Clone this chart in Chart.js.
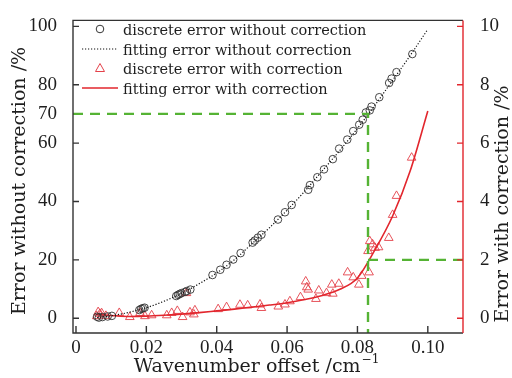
<!DOCTYPE html>
<html>
<head>
<meta charset="utf-8">
<script src="https://cdn.jsdelivr.net/npm/chart.js@4.4.1/dist/chart.umd.min.js"></script>
<style>
  html, body { margin: 0; padding: 0; background: #fff; }
  #wrap { width: 512px; height: 378px; }
</style>
</head>
<body>
<div id="wrap"><canvas id="errChart" width="512" height="378"></canvas></div>
<script>
// tick labels
const xTicks = [0, 0.02, 0.04, 0.06, 0.08, 0.10];
const yTicks = [0, 20, 40, 60, 70, 80, 100];
const y2Ticks = [0, 2, 4, 6, 8, 10];

// discrete error without correction (x, %)
const rawX = [0.006, 0.0065, 0.0075, 0.009, 0.0102,
    0.018, 0.0185, 0.019, 0.0195,
    0.0285, 0.029, 0.0295, 0.030, 0.031, 0.0315, 0.0325,
    0.0388, 0.041, 0.0428, 0.0447, 0.0468,
    0.0502, 0.0508, 0.0517, 0.0527,
    0.0574, 0.0594, 0.0613,
    0.066, 0.0665, 0.0686, 0.0705, 0.073, 0.0748, 0.0771, 0.0788, 0.0805, 0.0815, 0.0824, 0.0835, 0.084,
    0.0862, 0.089, 0.0897, 0.0911, 0.0956];
const rawY = [0.5, 0.2, 0.4, 0.6, 0.8,
    2.8, 3.2, 3.4, 3.6,
    7.6, 8.0, 8.3, 8.6, 9.0, 9.3, 9.8,
    14.8, 16.6, 18.3, 20.1, 22.3,
    25.9, 26.6, 27.6, 28.6,
    33.8, 36.3, 38.8,
    44.0, 45.6, 48.3, 51.0, 54.5, 58.1, 61.2, 64.1, 66.3, 68.0, 70.5, 71.2, 72.5,
    75.7, 80.6, 82.1, 84.3, 90.5];

// discrete error with correction (x, %)
const corrX = [0.0059, 0.0063, 0.0068, 0.0073, 0.0085, 0.0123, 0.0153, 0.0182, 0.0196, 0.0215,
    0.0258, 0.0272, 0.0288, 0.0303, 0.0314, 0.0324, 0.0338, 0.0335,
    0.0404, 0.0428, 0.0466, 0.0488, 0.0523, 0.0527, 0.0575, 0.0594, 0.0608, 0.0638,
    0.0653, 0.0656, 0.066, 0.0682, 0.069, 0.0712, 0.0727, 0.073, 0.0747, 0.0772, 0.0788,
    0.0804, 0.0812, 0.0833, 0.083, 0.0835, 0.0843, 0.085, 0.086, 0.0889, 0.09, 0.0911, 0.0954];
const corrY = [0.07, 0.21, 0.15, 0.17, 0.08, 0.18, 0.04, 0.18, 0.07, 0.10,
    0.10, 0.18, 0.25, 0.04, 0.86, 0.20, 0.27, 0.13,
    0.31, 0.38, 0.46, 0.44, 0.47, 0.35, 0.40, 0.47, 0.58, 0.72,
    1.26, 1.06, 0.98, 0.66, 0.95, 0.86, 1.15, 0.84, 1.18, 1.57, 1.40,
    1.15, 1.45, 1.57, 2.30, 2.64, 2.53, 2.41, 2.43, 2.75, 3.54, 4.19, 5.50];

// fitted curves
const fitX = [0.006, 0.01, 0.015, 0.02, 0.025, 0.03, 0.035, 0.04, 0.045, 0.05,
    0.055, 0.06, 0.065, 0.07, 0.075, 0.08, 0.085, 0.09, 0.095, 0.10];
const fitRaw = [0.2, 0.8, 2.0, 3.6, 5.8, 8.5, 11.8, 15.5, 20.0, 25.5,
    31.0, 37.0, 43.5, 50.5, 57.5, 65.0, 73.0, 81.5, 90.0, 99.0];
const fitCorr = [0.15, 0.09, 0.06, 0.07, 0.10, 0.14, 0.19, 0.25, 0.31, 0.38,
    0.45, 0.53, 0.64, 0.78, 0.99, 1.38, 2.35, 3.50, 5.05, 7.10];

// guide lines
const guideX = 0.083;
const guideY = 70;
const guideY2 = 2;

const xMin = -0.00085, xMax = 0.11;
const yMin = -5.07, yMax = 102.03;
const y2Min = -0.507, y2Max = 10.203;

const serif = '"DejaVu Serif", serif';
const tickFont = { family: '"Liberation Serif", serif', size: 19 };
const textColor = '#1e1e1e';
const red = '#e2262d';
const triRed = '#e4414a';
const green = '#55b334';

function pairs(xs, ys) {
    return xs.map((x, i) => ({ x: x, y: ys[i] }));
}

// frame, inward ticks, titles and legend
const decorPlugin = {
    id: 'decor',
    afterDraw(chart) {
        const ctx = chart.ctx;
        const a = chart.chartArea;
        const sx = chart.scales.x, sy = chart.scales.y, sy2 = chart.scales.y2;
        ctx.save();
        ctx.lineWidth = 1.4;
        ctx.strokeStyle = '#333';
        ctx.beginPath();
        ctx.moveTo(a.right, a.top); ctx.lineTo(a.left, a.top);
        ctx.lineTo(a.left, a.bottom); ctx.lineTo(a.right, a.bottom);
        xTicks.forEach(v => {
            const px = sx.getPixelForValue(v);
            ctx.moveTo(px, a.bottom); ctx.lineTo(px, a.bottom - 7);
        });
        [0, 20, 40, 60, 80, 100].forEach(v => {
            const py = sy.getPixelForValue(v);
            ctx.moveTo(a.left, py); ctx.lineTo(a.left + 6, py);
        });
        ctx.stroke();
        ctx.strokeStyle = red;
        ctx.beginPath();
        ctx.moveTo(a.right, a.top); ctx.lineTo(a.right, a.bottom);
        y2Ticks.forEach(v => {
            const py = sy2.getPixelForValue(v);
            ctx.moveTo(a.right, py); ctx.lineTo(a.right - 6, py);
        });
        ctx.stroke();

        // axis titles
        ctx.fillStyle = textColor;
        ctx.font = '19px ' + serif;
        ctx.textBaseline = 'middle';
        ctx.textAlign = 'center';
        ctx.save();
        ctx.translate(20, 181);
        ctx.rotate(-Math.PI / 2);
        ctx.fillText('Error without correction /%', 0, 0);
        ctx.restore();
        ctx.save();
        ctx.translate(503, 204);
        ctx.rotate(-Math.PI / 2);
        ctx.fillText('Error with correction /%', 0, 0);
        ctx.restore();

        ctx.textBaseline = 'alphabetic';
        ctx.textAlign = 'left';
        const main = 'Wavenumber offset /cm';
        const sup = '\u22121';
        ctx.font = '19px ' + serif;
        const w1 = ctx.measureText(main).width;
        ctx.font = '12px ' + serif;
        const w2 = ctx.measureText(sup).width;
        const x0 = 256 - (w1 + w2) / 2;
        ctx.font = '19px ' + serif;
        ctx.fillText(main, x0, 372);
        ctx.font = '12px ' + serif;
        ctx.fillText(sup, x0 + w1 + 1, 363);

        // legend
        ctx.font = '14.5px ' + serif;
        const labels = ['discrete error without correction', 'fitting error without correction',
            'discrete error with correction', 'fitting error with correction'];
        const rows = [29, 49, 68, 88];
        labels.forEach((t, i) => ctx.fillText(t, 123, rows[i] + 6));
        ctx.lineWidth = 1;
        ctx.strokeStyle = '#333';
        ctx.beginPath();
        ctx.arc(100, rows[0], 3.8, 0, Math.PI * 2);
        ctx.stroke();
        ctx.setLineDash([1.2, 1.8]);
        ctx.lineWidth = 1.2;
        ctx.strokeStyle = '#111';
        ctx.beginPath();
        ctx.moveTo(82, rows[1]); ctx.lineTo(118, rows[1]);
        ctx.stroke();
        ctx.setLineDash([]);
        ctx.lineWidth = 1;
        ctx.strokeStyle = triRed;
        ctx.beginPath();
        ctx.moveTo(100, rows[2] - 4.5); ctx.lineTo(104.5, rows[2] + 3.5); ctx.lineTo(95.5, rows[2] + 3.5);
        ctx.closePath();
        ctx.stroke();
        ctx.lineWidth = 1.6;
        ctx.strokeStyle = red;
        ctx.beginPath();
        ctx.moveTo(82, rows[3]); ctx.lineTo(118, rows[3]);
        ctx.stroke();
        ctx.restore();
    }
};

const ctx = document.getElementById('errChart').getContext('2d');
const myChart = new Chart(ctx, {
    type: 'scatter',
    data: {
        datasets: [
            {
                label: 'guide 70',
                type: 'line',
                data: [{ x: xMin, y: guideY }, { x: guideX, y: guideY }, { x: guideX, y: yMin }],
                yAxisID: 'y',
                borderColor: green,
                borderWidth: 2.4,
                borderDash: [10, 7],
                pointRadius: 0,
                fill: false,
                tension: 0
            },
            {
                label: 'guide 2',
                type: 'line',
                data: [{ x: guideX, y: guideY2 }, { x: xMax, y: guideY2 }],
                yAxisID: 'y2',
                borderColor: green,
                borderWidth: 2.4,
                borderDash: [10, 7],
                pointRadius: 0,
                fill: false
            },
            {
                label: 'fitting error without correction',
                type: 'line',
                data: pairs(fitX, fitRaw),
                yAxisID: 'y',
                borderColor: '#111',
                borderWidth: 1.2,
                borderDash: [1.2, 1.8],
                pointRadius: 0,
                cubicInterpolationMode: 'monotone',
                fill: false
            },
            {
                label: 'discrete error without correction',
                data: pairs(rawX, rawY),
                yAxisID: 'y',
                pointStyle: 'circle',
                pointRadius: 3.8,
                borderColor: '#333',
                borderWidth: 0.9,
                backgroundColor: 'rgba(0,0,0,0)'
            },
            {
                label: 'fitting error with correction',
                type: 'line',
                data: pairs(fitX, fitCorr),
                yAxisID: 'y2',
                borderColor: red,
                borderWidth: 1.6,
                pointRadius: 0,
                cubicInterpolationMode: 'monotone',
                fill: false
            },
            {
                label: 'discrete error with correction',
                data: pairs(corrX, corrY),
                yAxisID: 'y2',
                pointStyle: 'triangle',
                pointRadius: 5,
                borderColor: triRed,
                borderWidth: 0.9,
                backgroundColor: 'rgba(0,0,0,0)'
            }
        ]
    },
    options: {
        responsive: false,
        animation: false,
        layout: { padding: { top: 16, left: 0, right: 0, bottom: 0 } },
        plugins: {
            legend: { display: false },
            tooltip: { enabled: false }
        },
        scales: {
            x: {
                type: 'linear',
                min: xMin,
                max: xMax,
                grid: { display: false },
                border: { display: false },
                afterBuildTicks: axis => { axis.ticks = xTicks.map(v => ({ value: v })); },
                afterFit: axis => { axis.height = 45; },
                ticks: {
                    font: tickFont,
                    color: textColor,
                    padding: -4,
                    maxRotation: 0,
                    callback: v => (v === 0 ? '0' : v.toFixed(2))
                }
            },
            y: {
                position: 'left',
                min: yMin,
                max: yMax,
                grid: { display: false },
                border: { display: false },
                afterBuildTicks: axis => { axis.ticks = yTicks.map(v => ({ value: v })); },
                afterFit: axis => { axis.width = 73; },
                ticks: { font: tickFont, color: textColor, padding: 8 }
            },
            y2: {
                position: 'right',
                min: y2Min,
                max: y2Max,
                grid: { display: false },
                border: { display: false },
                afterBuildTicks: axis => { axis.ticks = y2Ticks.map(v => ({ value: v })); },
                afterFit: axis => { axis.width = 49; },
                ticks: { font: tickFont, color: textColor, padding: 9 }
            }
        }
    },
    plugins: [decorPlugin]
});
</script>
</body>
</html>
